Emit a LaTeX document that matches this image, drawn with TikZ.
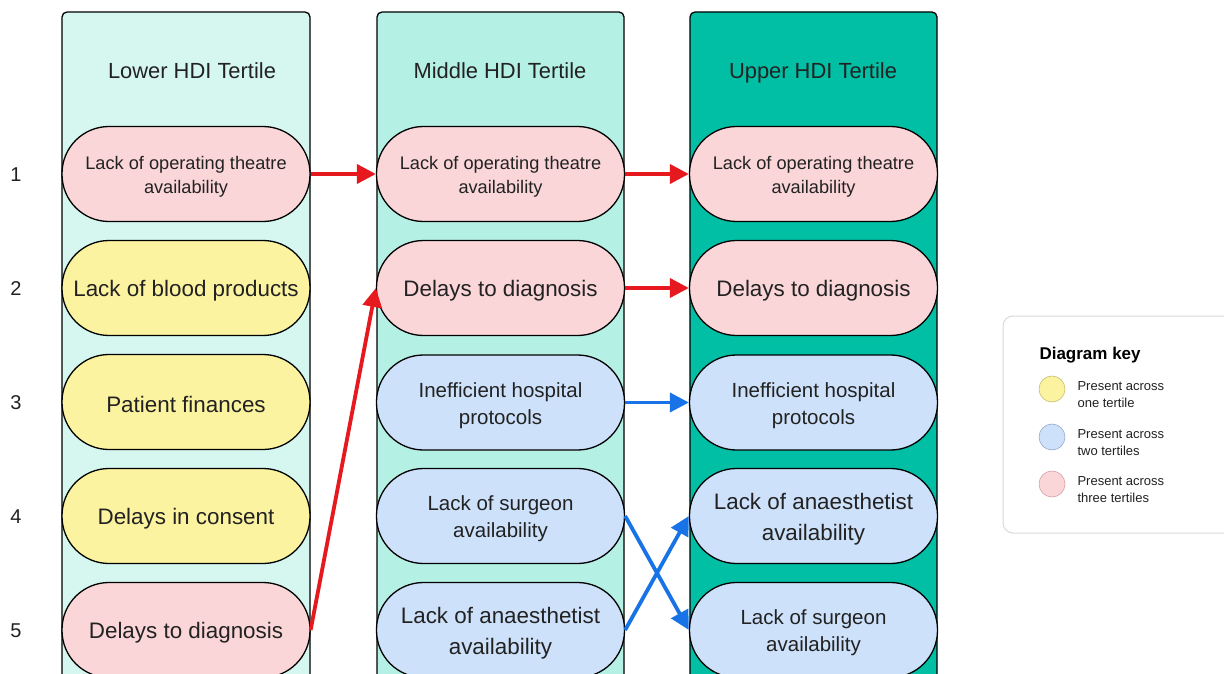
\documentclass[tikz,border=0pt]{standalone}
\usepackage{fontspec}
\setmainfont{Liberation Sans}
\usetikzlibrary{arrows.meta}

\definecolor{lowcol}{RGB}{213,247,240}
\definecolor{midcol}{RGB}{181,240,229}
\definecolor{upcol}{RGB}{0,191,165}
\definecolor{pinkfill}{RGB}{250,214,216}
\definecolor{yellowfill}{RGB}{252,243,160}
\definecolor{bluefill}{RGB}{205,225,250}
\definecolor{redarrow}{RGB}{230,25,30}
\definecolor{bluearrow}{RGB}{24,115,230}
\definecolor{txt}{RGB}{34,34,34}
\definecolor{keyborder}{RGB}{218,218,218}

\tikzset{
  column/.style={draw=black, line width=1.3pt, rounded corners=5pt},
  pill/.style={draw=black, line width=1.3pt, rounded corners=47pt,
    minimum width=248pt, minimum height=95pt, inner sep=0pt},
  ptext/.style={align=center, text=txt, inner sep=0pt, yshift=-2.8pt},
  smalltxt/.style={ptext, font=\fontsize{18.2}{24}\selectfont},
  midtxt/.style={ptext, font=\fontsize{20.5}{27}\selectfont},
  bigtxt/.style={ptext, font=\fontsize{22.4}{31}\selectfont},
  header/.style={text=txt, font=\fontsize{21.9}{26}\selectfont,
    text height=16pt, text depth=4.5pt},
  rownum/.style={text=txt, font=\fontsize{20}{24}\selectfont},
  redlink/.style={draw=redarrow, line width=3.8pt,
    -{Triangle[length=19pt,width=19pt]}},
  bluelink/.style={draw=bluearrow, line width=3.8pt,
    -{Triangle[length=19pt,width=19pt]}},
  keydot/.style={circle, minimum size=26pt, inner sep=0pt, line width=0.6pt},
  keytxt/.style={anchor=west, align=left, text=txt,
    font=\fontsize{13}{17}\selectfont},
}

\begin{document}
\begin{tikzpicture}[x=1pt, y=-1pt]
  \useasboundingbox (0,0) rectangle (1224,674);
  \clip (0,0) rectangle (1224,674);
  \fill[white] (0,0) rectangle (1224,674);

  % tertile columns
  \draw[column, fill=lowcol] (62,12) rectangle (310,700);
  \draw[column, fill=midcol] (377,12) rectangle (624,700);
  \draw[column, fill=upcol]  (690,12) rectangle (937,700);

  \node[header] (hlow) at (192,72.5) {Lower HDI Tertile};
  \node[header] (hmid) at (500,72.5) {Middle HDI Tertile};
  \node[header] (hup)  at (813,72.5) {Upper HDI Tertile};

  % rank numbers
  \node[rownum] (n1) at (16,175) {1};
  \node[rownum] (n2) at (16,289) {2};
  \node[rownum] (n3) at (16,403) {3};
  \node[rownum] (n4) at (16,517) {4};
  \node[rownum] (n5) at (16,631) {5};

  % lower tertile
  \node[pill, fill=pinkfill]   (l1) at (186,174) {};
  \node[pill, fill=yellowfill] (l2) at (186,288) {};
  \node[pill, fill=yellowfill] (l3) at (186,402) {};
  \node[pill, fill=yellowfill] (l4) at (186,516) {};
  \node[pill, fill=pinkfill]   (l5) at (186,630) {};
  \node[smalltxt] (l1t) at (l1) {Lack of operating theatre\\availability};
  \node[bigtxt]   (l2t) at (l2) {Lack of blood products};
  \node[bigtxt]   (l3t) at (l3) {Patient finances};
  \node[bigtxt]   (l4t) at (l4) {Delays in consent};
  \node[bigtxt]   (l5t) at (l5) {Delays to diagnosis};

  % middle tertile
  \node[pill, fill=pinkfill] (m1) at (500.5,174) {};
  \node[pill, fill=pinkfill] (m2) at (500.5,288) {};
  \node[pill, fill=bluefill] (m3) at (500.5,402.5) {};
  \node[pill, fill=bluefill] (m4) at (500.5,516) {};
  \node[pill, fill=bluefill] (m5) at (500.5,630) {};
  \node[smalltxt] (m1t) at (m1) {Lack of operating theatre\\availability};
  \node[bigtxt]   (m2t) at (m2) {Delays to diagnosis};
  \node[midtxt]   (m3t) at (m3) {Inefficient hospital\\protocols};
  \node[midtxt]   (m4t) at (m4) {Lack of surgeon\\availability};
  \node[bigtxt]   (m5t) at (m5) {Lack of anaesthetist\\availability};

  % upper tertile
  \node[pill, fill=pinkfill] (u1) at (813.5,174) {};
  \node[pill, fill=pinkfill] (u2) at (813.5,288) {};
  \node[pill, fill=bluefill] (u3) at (813.5,402.5) {};
  \node[pill, fill=bluefill] (u4) at (813.5,516) {};
  \node[pill, fill=bluefill] (u5) at (813.5,630) {};
  \node[smalltxt] (u1t) at (u1) {Lack of operating theatre\\availability};
  \node[bigtxt]   (u2t) at (u2) {Delays to diagnosis};
  \node[midtxt]   (u3t) at (u3) {Inefficient hospital\\protocols};
  \node[bigtxt]   (u4t) at (u4) {Lack of anaesthetist\\availability};
  \node[midtxt]   (u5t) at (u5) {Lack of surgeon\\availability};

  % links between tertiles
  \draw[redlink] (l1.east) -- (m1.west);
  \draw[redlink] (m1.east) -- (u1.west);
  \draw[redlink] (l5.east) -- (m2.west);
  \draw[redlink] (m2.east) -- (u2.west);
  \draw[bluelink] (m3.east) -- (u3.west);
  \draw[bluelink] (m4.east) -- (u5.west);
  \draw[bluelink] (m5.east) -- (u4.west);

  % diagram key
  \draw[draw=keyborder, fill=white, line width=1pt, rounded corners=10pt]
    (1003,316) rectangle (1240,533);
  \node[anchor=west, text=black, font=\bfseries\fontsize{17}{20}\selectfont]
    (keytitle) at (1036,355) {Diagram key};
  \node[keydot, draw={rgb,255:red,200;green,190;blue,110}, fill=yellowfill] (k1) at (1052,389) {};
  \node[keydot, draw={rgb,255:red,150;green,170;blue,200}, fill=bluefill]   (k2) at (1052,437) {};
  \node[keydot, draw={rgb,255:red,215;green,160;blue,165}, fill=pinkfill]   (k3) at (1052,484) {};
  \node[keytxt] (kt1) at (1074,395) {Present across\\one tertile};
  \node[keytxt] (kt2) at (1074,443) {Present across\\two tertiles};
  \node[keytxt] (kt3) at (1074,490) {Present across\\three tertiles};
\end{tikzpicture}
\end{document}
